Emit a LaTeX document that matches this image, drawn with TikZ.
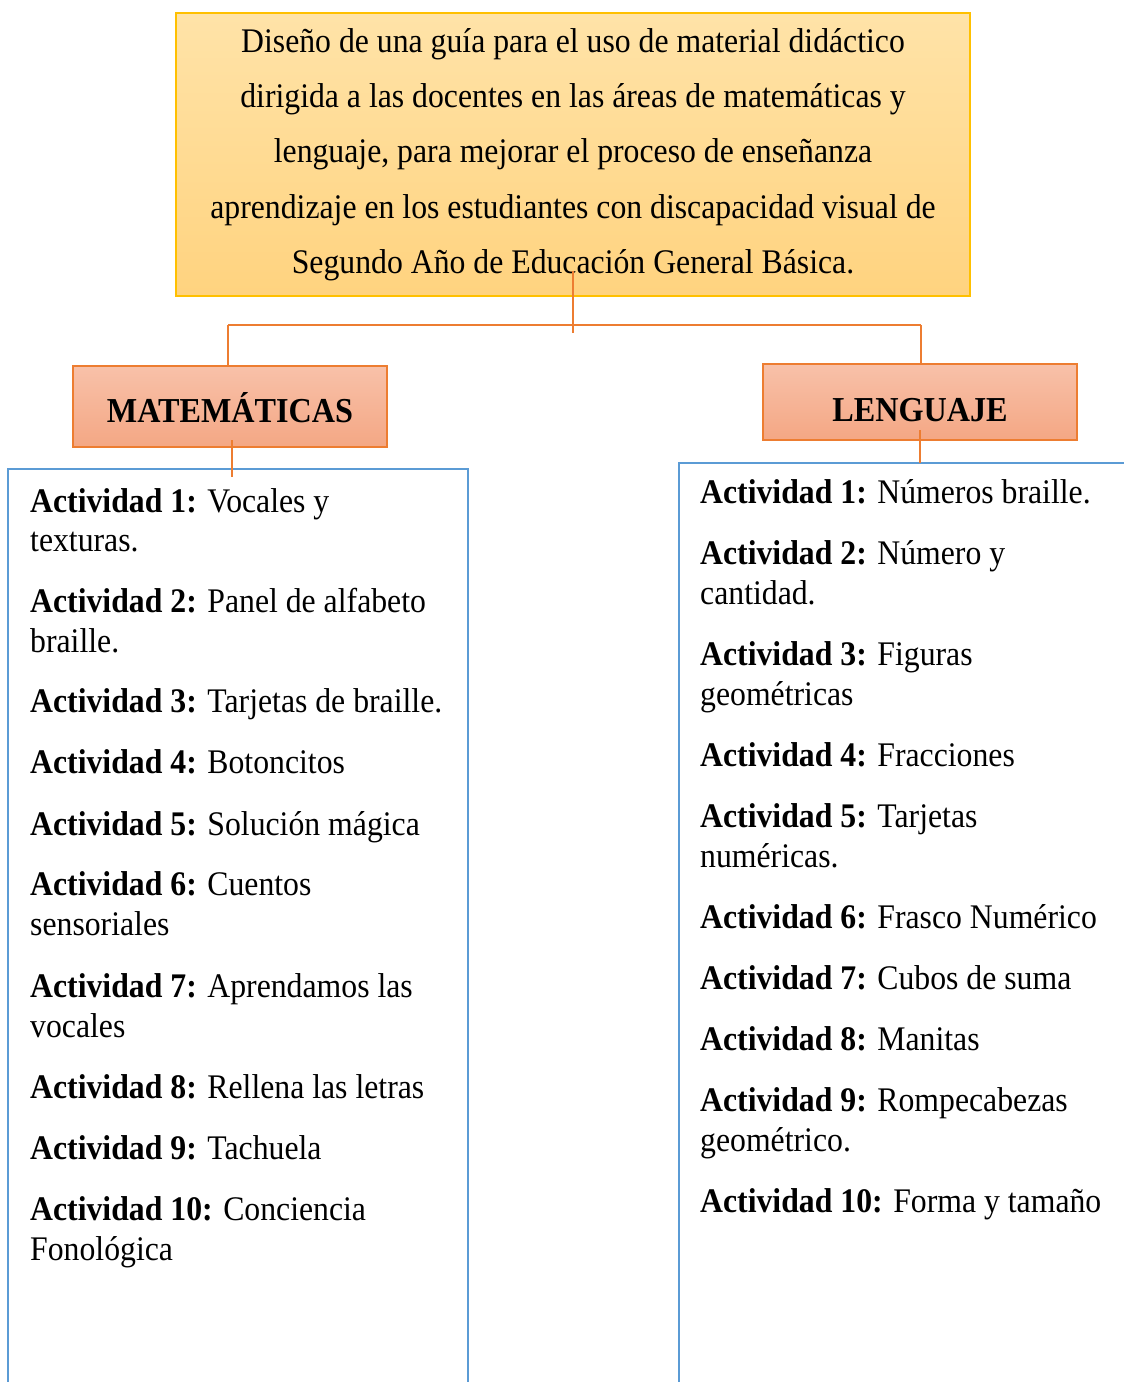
\documentclass[tikz,border=0pt]{standalone}
\usepackage{fontspec}
\setmainfont[FakeStretch=0.92]{Liberation Serif}
\usetikzlibrary{calc}
\definecolor{ybord}{HTML}{FFC000}
\definecolor{ytop}{HTML}{FFE3A8}
\definecolor{ybot}{HTML}{FFD37F}
\definecolor{obord}{HTML}{ED7D31}
\definecolor{otop}{HTML}{F8C1A9}
\definecolor{obot}{HTML}{F4A784}
\definecolor{bbord}{HTML}{5B9BD5}
\begin{document}
\begin{tikzpicture}[x=1pt,y=-1pt,
  mainbox/.style={draw=ybord, line width=1.2pt, top color=ytop, bottom color=ybot,
    minimum width=794pt, minimum height=283pt, align=center, inner sep=0pt,
    font=\fontsize{34.5}{55.3}\selectfont},
  hdr/.style={draw=obord, line width=1.2pt, top color=otop, bottom color=obot,
    minimum width=314pt, inner sep=0pt, outer sep=0pt, text depth=0pt,
    font=\fontsize{35}{40}\selectfont\bfseries},
  listbox/.style={draw=bbord, line width=2.2pt, anchor=north west, outer sep=0pt, inner sep=0pt},
  item/.style={anchor=base west, inner sep=0pt, yshift=-2pt, font=\fontsize{34.5}{40}\selectfont},
  conn/.style={draw=obord, line width=1.2pt}]
\useasboundingbox (0,0) rectangle (1124,1382);
\clip (0,0) rectangle (1124,1382);

% top box
\node[mainbox] (top) at (573,154.5) {\raisebox{-2pt}{\parbox{794pt}{\centering Diseño de una guía para el uso de material didáctico\\
dirigida a las docentes en las áreas de matemáticas y\\
lenguaje, para mejorar el proceso de enseñanza\\
aprendizaje en los estudiantes con discapacidad visual de\\
Segundo Año de Educación General Básica.}}};

% headers
\node[hdr, minimum height=81pt, text height=32pt] (mat) at (230,406.5) {MATEMÁTICAS};
\node[hdr, minimum height=76pt, text height=39pt] (len) at (920,402) {LENGUAJE};

% list boxes
\node[listbox, minimum width=460pt, minimum height=950pt] (matlist) at (8,469) {};
\node[listbox, minimum width=520pt, minimum height=960pt] (lenlist) at (679,463) {};

% connectors
\coordinate (jl) at (228,325);
\coordinate (jr) at (921,325);
\coordinate (jt) at (574,333);
\draw[conn] ([yshift=26pt]top.south) -- (top.south |- jt);
\draw[conn] (jl) -- (jr);
\draw[conn] (jl) -- (jl |- mat.north);
\draw[conn] (jr) -- (jr |- len.north);
\draw[conn] ($(mat.south)+(2,-7)$) -- ($(mat.south |- matlist.north)+(2,8)$);
\draw[conn] ($(len.south)+(0,-10)$) -- (len.south |- lenlist.north);

% left list
\node[item] (l1a) at (30,510) {\textbf{Actividad 1:} Vocales y};
\node[item] (l1b) at (30,549) {texturas.};
\node[item] (l2a) at (30,610) {\textbf{Actividad 2:} Panel de alfabeto};
\node[item] (l2b) at (30,650) {braille.};
\node[item] (l3a) at (30,710) {\textbf{Actividad 3:} Tarjetas de braille.};
\node[item] (l4a) at (30,771) {\textbf{Actividad 4:} Botoncitos};
\node[item] (l5a) at (30,833) {\textbf{Actividad 5:} Solución mágica};
\node[item] (l6a) at (30,893) {\textbf{Actividad 6:} Cuentos};
\node[item] (l6b) at (30,933) {sensoriales};
\node[item] (l7a) at (30,995) {\textbf{Actividad 7:} Aprendamos las};
\node[item] (l7b) at (30,1035) {vocales};
\node[item] (l8a) at (30,1096) {\textbf{Actividad 8:} Rellena las letras};
\node[item] (l9a) at (30,1157) {\textbf{Actividad 9:} Tachuela};
\node[item] (l10a) at (30,1218) {\textbf{Actividad 10:} Conciencia};
\node[item] (l10b) at (30,1258) {Fonológica};

% right list
\node[item] (r1a) at (700,501) {\textbf{Actividad 1:} Números braille.};
\node[item] (r2a) at (700,562) {\textbf{Actividad 2:} Número y};
\node[item] (r2b) at (700,602) {cantidad.};
\node[item] (r3a) at (700,663) {\textbf{Actividad 3:} Figuras};
\node[item] (r3b) at (700,703) {geométricas};
\node[item] (r4a) at (700,764) {\textbf{Actividad 4:} Fracciones};
\node[item] (r5a) at (700,825) {\textbf{Actividad 5:} Tarjetas};
\node[item] (r5b) at (700,865) {numéricas.};
\node[item] (r6a) at (700,926) {\textbf{Actividad 6:} Frasco Numérico};
\node[item] (r7a) at (700,987) {\textbf{Actividad 7:} Cubos de suma};
\node[item] (r8a) at (700,1048) {\textbf{Actividad 8:} Manitas};
\node[item] (r9a) at (700,1109) {\textbf{Actividad 9:} Rompecabezas};
\node[item] (r9b) at (700,1149) {geométrico.};
\node[item] (r10a) at (700,1210) {\textbf{Actividad 10:} Forma y tamaño};
\end{tikzpicture}
\end{document}
